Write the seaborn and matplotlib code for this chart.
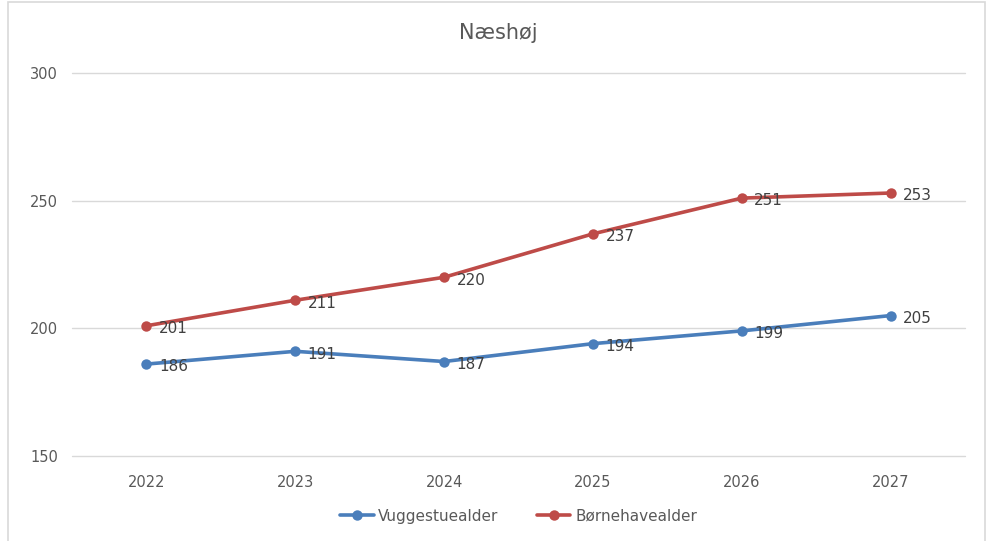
import matplotlib
matplotlib.use("Agg")
import matplotlib.pyplot as plt
import seaborn as sns
import pandas as pd
from matplotlib.patches import Rectangle

years = ["2022", "2023", "2024", "2025", "2026", "2027"]
vuggestue = [186, 191, 187, 194, 199, 205]
boernehave = [201, 211, 220, 237, 251, 253]
series_names = ["Vuggestuealder", "Børnehavealder"]
colors = ["#4a7ebb", "#be4b48"]

df = pd.DataFrame({
    "year": years * 2,
    "x": list(range(len(years))) * 2,
    "value": vuggestue + boernehave,
    "series": [series_names[0]] * len(years) + [series_names[1]] * len(years),
})

sns.set_theme(style="white")
fam = ["Liberation Sans Narrow", "DejaVu Sans"]
plt.rcParams["font.family"] = fam

W, H = 996, 541
fig = plt.figure(figsize=(W / 100, H / 100), dpi=100)
ax = fig.add_axes([72 / W, 1 - 456 / H, (965 - 72) / W, (456 - 73) / H])

# outer frame
fig.patches.append(Rectangle((8 / W, -0.05), (985 - 8) / W, 1.05 - 2 / H,
                             transform=fig.transFigure, fill=False,
                             edgecolor="#d9d9d9", linewidth=1.2))

sns.lineplot(data=df, x="x", y="value", hue="series", palette=colors,
             marker="o", markersize=7.5, markeredgewidth=0, linewidth=2.6,
             ax=ax, legend=True)

for vals, c in zip([vuggestue, boernehave], colors):
    for i, v in enumerate(vals):
        ax.annotate(str(v), (i, v), xytext=(9, -2), textcoords="offset points",
                    ha="left", va="center", fontsize=11, color="#404040",
                    family=fam)

ax.set_xlim(-0.5, 5.5)
ax.set_ylim(150, 300)
ax.set_yticks([150, 200, 250, 300])
ax.set_xticks(range(len(years)))
ax.set_xticklabels(years)
ax.yaxis.grid(True, color="#d9d9d9", linewidth=1)
for gl in ax.yaxis.get_gridlines():
    gl.set_clip_on(False)
ax.xaxis.grid(False)
for s in ax.spines.values():
    s.set_visible(False)
ax.tick_params(axis="both", length=0, labelsize=10.5, labelcolor="#595959")
ax.tick_params(axis="x", pad=14)
ax.tick_params(axis="y", pad=30)
for lab in ax.get_yticklabels():
    lab.set_horizontalalignment("left")
ax.set_xlabel("")
ax.set_ylabel("")

fig.text(0.5, 1 - 33 / H, "Næshøj", ha="center", va="center", fontsize=15,
         color="#595959", family=fam)

leg = ax.legend(loc="center", bbox_to_anchor=(0.5, -(516 - 456) / (456 - 73)),
                ncol=2, frameon=False, fontsize=11, handlelength=2.2,
                columnspacing=2.5, handletextpad=0.3)
for t in leg.get_texts():
    t.set_color("#595959")

fig.savefig("out.png", dpi=100)
